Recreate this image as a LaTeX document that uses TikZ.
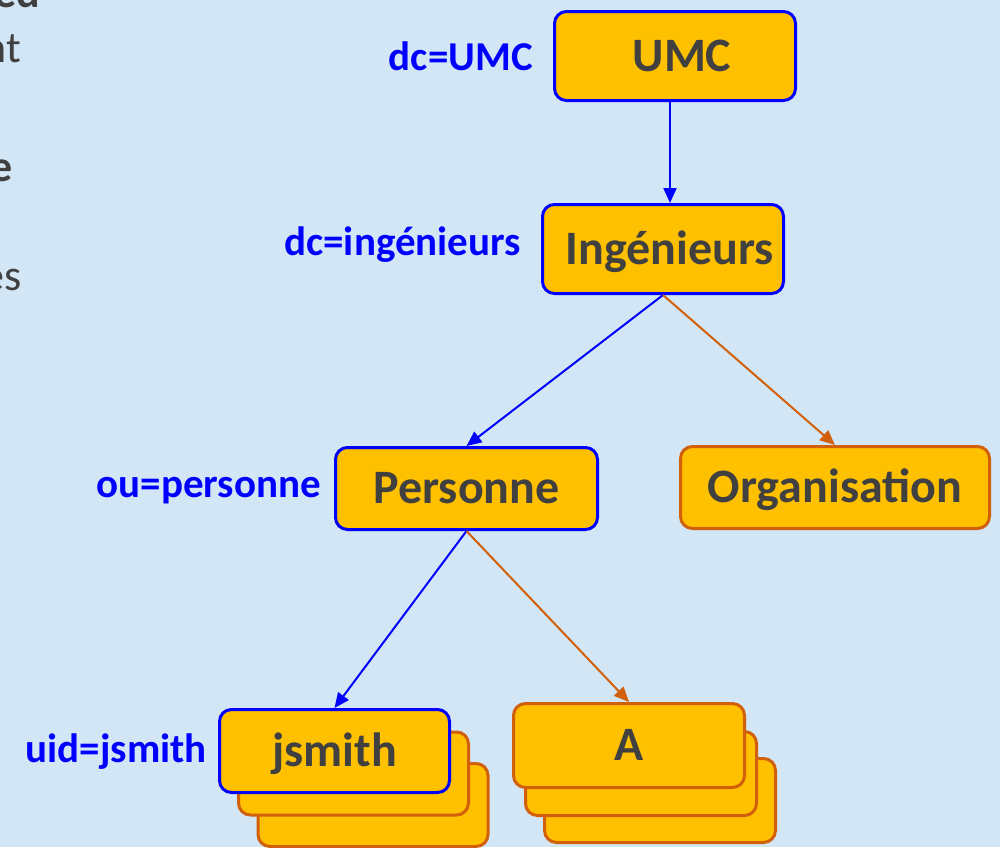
\documentclass[tikz,border=0pt]{standalone}
\usepackage{fontspec}
\setmainfont{Carlito}
\usetikzlibrary{arrows.meta}
\definecolor{bgblue}{HTML}{D2E6F5}
\definecolor{boxfill}{HTML}{FFC000}
\definecolor{rustline}{HTML}{D2600A}
\definecolor{linkblue}{HTML}{0000FF}
\definecolor{inktext}{HTML}{404040}
\tikzset{
  box/.style={rectangle, rounded corners=12pt, fill=boxfill, line width=3pt,
    inner sep=0pt, text height=30pt, text depth=0pt, text=inktext,
    font=\fontsize{48}{57}\selectfont\bfseries},
  bluebox/.style={box, draw=linkblue},
  rustbox/.style={box, draw=rustline},
  attr/.style={anchor=east, inner sep=0pt, text height=26pt, text depth=0pt,
    text=linkblue, font=\fontsize{41}{49}\selectfont\bfseries},
  sidetext/.style={anchor=base east, inner sep=0pt, text=inktext,
    font=\fontsize{44}{52}\selectfont},
  bluelink/.style={draw=linkblue, line width=2pt,
    -{Triangle[length=15pt,width=13pt]}},
  rustlink/.style={draw=rustline, line width=2pt,
    -{Triangle[length=15pt,width=13pt]}},
}
\begin{document}
\begin{tikzpicture}[x=1pt, y=-1pt]
  \useasboundingbox (0,0) rectangle (1000,847);
  \clip (0,0) rectangle (1000,847);
  \fill[bgblue] (0,0) rectangle (1000,847);

  % text running in from the left margin
  \node[sidetext, font=\fontsize{44}{52}\selectfont\bfseries] (t1) at (40,7) {ed};
  \node[sidetext] (t2) at (21,62) {nt};
  \node[sidetext, font=\fontsize{44}{52}\selectfont\bfseries] (t3) at (13,181) {e};
  \node[sidetext] (t4) at (22,290) {es};

  % stacked entries behind jsmith and A
  \node[rustbox, minimum width=230pt, minimum height=83pt] (js3) at (373,805) {};
  \node[rustbox, minimum width=230pt, minimum height=83pt] (js2) at (353.5,773.5) {};
  \node[rustbox, minimum width=231pt, minimum height=84pt] (a3) at (660,800.5) {};
  \node[rustbox, minimum width=231pt, minimum height=84pt] (a2) at (641,773.5) {};

  % tree entries
  \node[bluebox, minimum width=241pt, minimum height=89pt] (umc) at (675,56) {\hspace*{14pt}UMC};
  \node[bluebox, minimum width=241pt, minimum height=89pt] (ing) at (663,249) {\hspace*{14pt}Ingénieurs};
  \node[bluebox, minimum width=262pt, minimum height=82pt] (pers) at (466.5,488.5) {Personne};
  \node[rustbox, minimum width=309pt, minimum height=82pt] (org) at (835,487.5) {Organisation};
  \node[bluebox, minimum width=230pt, minimum height=83pt] (js) at (334.5,751) {jsmith};
  \node[rustbox, minimum width=231pt, minimum height=84pt] (a) at (629,745.5) {A};

  % naming attributes
  \node[attr] (lumc) at (533,57) {dc=UMC};
  \node[attr] (ling) at (521,242) {dc=ingénieurs};
  \node[attr] (lpers) at (321,484) {ou=personne};
  \node[attr] (ljs) at (207,749) {uid=jsmith};

  % links
  \draw[bluelink] ([xshift=-5pt]umc.south) -- ([xshift=-5pt]umc.south |- ing.north);
  \draw[bluelink] (ing.south) -- (pers.north);
  \draw[rustlink] (ing.south) -- (org.north);
  \draw[bluelink] (pers.south) -- (js.north);
  \draw[rustlink] (pers.south) -- (a.north);
\end{tikzpicture}
\end{document}
